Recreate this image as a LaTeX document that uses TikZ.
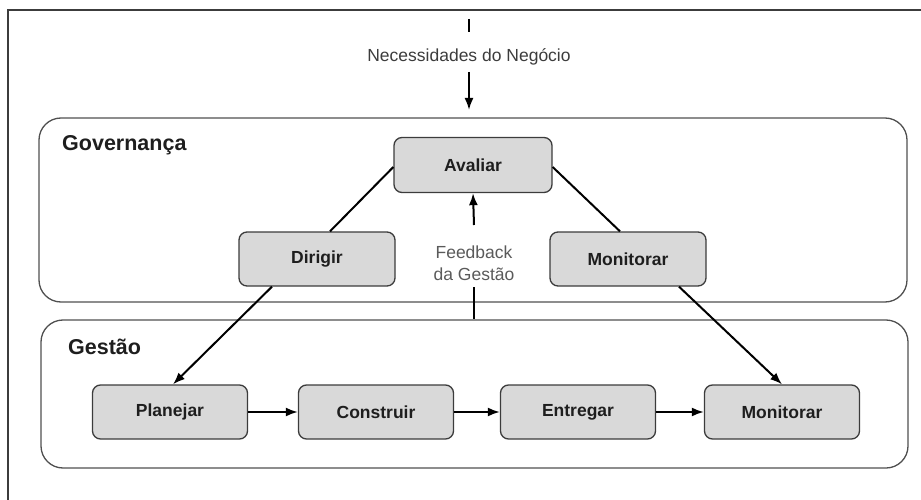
\documentclass[tikz,border=0pt]{standalone}
\usepackage{fontspec}
\setmainfont{Liberation Sans}
\usetikzlibrary{arrows.meta,calc}
\definecolor{boxfill}{HTML}{D9D9D9}
\definecolor{boxline}{HTML}{3C3C3C}
\definecolor{grpline}{HTML}{505050}
\definecolor{txtdark}{HTML}{1E1E1E}
\definecolor{txtgray}{HTML}{3C3C3C}
\definecolor{txtlight}{HTML}{5A5A5A}
\tikzset{
  stepbox/.style={rectangle, rounded corners=8pt, draw=boxline, fill=boxfill,
    line width=1.3pt, minimum width=156pt, minimum height=54pt, inner sep=0pt,
    font=\bfseries\fontsize{17.5}{20}\selectfont, text=txtdark},
  grp/.style={rectangle, rounded corners=22pt, draw=grpline, line width=1.3pt, inner sep=0pt},
  grptitle/.style={font=\bfseries\fontsize{21.5}{24}\selectfont, text=txtdark, anchor=west, inner sep=0pt},
  plain/.style={font=\fontsize{17.5}{22}\selectfont, text=txtgray, inner sep=0pt, align=center},
  conn/.style={line width=2pt, black},
  arr/.style={conn, -{Latex[length=12pt,width=9pt]}},
}
\begin{document}
\begin{tikzpicture}[x=1pt,y=-1pt]
\useasboundingbox (0,0) rectangle (921,500);
% frame
\draw[line width=2pt, color=boxline] (8,500) -- (8,10) -- (921,10);

% groups
\node[grp, minimum width=868pt, minimum height=184pt] (gov) at (473,210) {};
\node[grp, minimum width=867pt, minimum height=148pt] (gest) at (474.5,394) {};
\node[grptitle] (govt) at (62,145) {Governança};
\node[grptitle] (gestt) at (68,347) {Gestão};

% governance nodes
\node[stepbox, minimum width=158pt, minimum height=55pt] (avaliar) at (473,165) {Avaliar};
\node[stepbox] (dirigir) at (317,259) {Dirigir};
\node[stepbox] (monG) at (628,259) {Monitorar};

% management nodes
\node[stepbox, minimum width=155pt] (planejar) at (170,412) {Planejar};
\node[stepbox, minimum width=155pt] (construir) at (376,412) {Construir};
\node[stepbox, minimum width=155pt] (entregar) at (578,412) {Entregar};
\node[stepbox, minimum width=155pt] (monM) at (782,412) {Monitorar};

% business needs
\coordinate (t1) at (469,19);
\coordinate (t2) at (469,32);
\draw[conn] (t1) -- (t2);
\node[plain] (nec) at (469,57) {Necessidades do Negócio};
\coordinate (necA) at (469,72);
\coordinate (necB) at (469,110);
\draw[arr] (necA) -- (necB);

% feedback
\node[plain, text=txtlight] (fb) at (474,263) {Feedback\\da Gestão};
\coordinate (fbtop) at (474,225);
\coordinate (fbbot) at (474,287);
\draw[arr] (fbtop) -- (avaliar.south);
\draw[conn] (fbbot) -- (gest.north -| fbbot);

% governance links
\draw[conn] ($(avaliar.west)+(0,2)$) -- ($(dirigir.north)+(13,0)$);
\draw[conn] ($(avaliar.east)+(0,2)$) -- ($(monG.north)+(-8,0)$);

% governance -> management
\draw[arr] ($(dirigir.south)+(-45,0)$) -- ($(planejar.north)+(3,0)$);
\draw[arr] ($(monG.south)+(51,0)$) -- (monM.north);

% process chain
\draw[arr] (planejar) -- (construir);
\draw[arr] (construir) -- (entregar);
\draw[arr] (entregar) -- (monM);
\end{tikzpicture}
\end{document}
